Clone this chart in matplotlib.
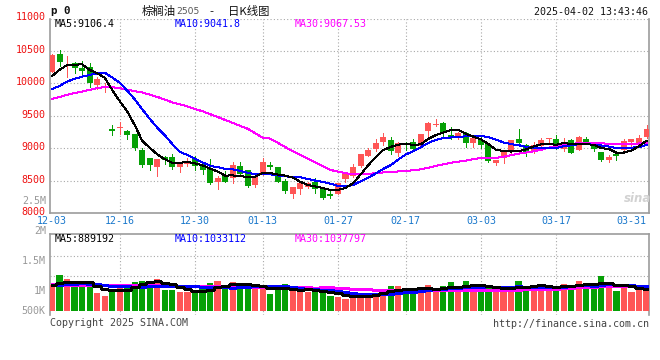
import numpy as np
import pandas as pd
import matplotlib
matplotlib.use("Agg")
import matplotlib.pyplot as plt
import matplotlib.transforms as mtransforms

plt.rcParams['font.family'] = ['DejaVu Sans Mono', 'DejaVu Sans']

W, H = 660, 360

# ---------------- data ----------------
date_labels = ["12-03", "12-16", "12-30", "01-13", "01-27", "02-17", "03-03", "03-17", "03-31"]
date_label_idx = [0, 9, 19, 28, 38, 47, 57, 67, 77]

opens = [10180, 10460, 10275, 10307, 10241, 10256, 9976, 9945, 9285, 9305,
         9264, 9213, 8968, 8841, 8714, 8866, 8866, 8704, 8754, 8831,
         8729, 8678, 8475, 8576, 8536, 8729, 8663, 8434, 8590, 8739,
         8704, 8495, 8296, 8373, 8408, 8475, 8373, 8296, 8296, 8525,
         8576, 8719, 8882, 8994, 9096, 9121, 8922, 9085, 9101, 9034,
         9264, 9350, 9381, 9202, 9151, 9238, 9085, 9121, 9060, 8770,
         8841, 8973, 9136, 9045, 8958, 9034, 9140, 9136, 8984, 9121,
         8973, 9136, 9070, 8948, 8821, 8907, 8968, 9096, 9075, 9177]
closes = [10434, 10332, 10285, 10231, 10190, 10001, 10063, 9955, 9275, 9330,
          9202, 9009, 8739, 8739, 8831, 8821, 8714, 8770, 8795, 8729,
          8668, 8464, 8541, 8485, 8739, 8602, 8424, 8551, 8790, 8709,
          8485, 8347, 8408, 8459, 8464, 8363, 8230, 8261, 8464, 8617,
          8714, 8907, 8973, 9085, 9172, 8958, 9085, 9045, 8994, 9213,
          9381, 9375, 9248, 9177, 9238, 9075, 9151, 9045, 8795, 8821,
          8958, 9121, 9075, 8933, 9045, 9121, 9150, 9009, 9085, 8933,
          9172, 9096, 8984, 8821, 8866, 8882, 9111, 9136, 9151, 9290]
highs = [10445, 10521, 10419, 10332, 10348, 10317, 10093, 10002, 9365, 9401,
         9280, 9220, 9009, 8856, 8835, 8880, 8907, 8775, 8846, 8882,
         8780, 8831, 8566, 8653, 8780, 8780, 8663, 8576, 8850, 8780,
         8714, 8525, 8408, 8500, 8485, 8536, 8373, 8347, 8464, 8637,
         8754, 8907, 9009, 9136, 9228, 9172, 9096, 9101, 9146, 9213,
         9401, 9452, 9401, 9330, 9248, 9248, 9151, 9187, 9060, 8821,
         8958, 9121, 9299, 9070, 9096, 9162, 9162, 9197, 9162, 9136,
         9187, 9177, 9070, 8948, 8892, 8933, 9136, 9136, 9197, 9350]
lows = [10170, 10266, 10103, 10154, 10129, 9951, 9910, 9859, 9197, 9213,
        9136, 8968, 8714, 8668, 8576, 8760, 8678, 8637, 8729, 8668,
        8602, 8449, 8373, 8475, 8464, 8576, 8408, 8408, 8580, 8678,
        8475, 8307, 8230, 8296, 8383, 8312, 8220, 8235, 8286, 8485,
        8551, 8704, 8882, 8958, 9045, 8907, 8882, 8973, 8984, 9024,
        9177, 9340, 9187, 9136, 9136, 9019, 9019, 9009, 8780, 8739,
        8770, 8933, 9060, 8882, 8933, 9009, 9085, 8984, 8958, 8922,
        8968, 9085, 8958, 8805, 8790, 8821, 8958, 9034, 9060, 9162]
volumes = [1080000, 1250000, 1180000, 1080000, 1056000, 1083000, 944000, 906000, 972000, 1100000,
           1100000, 1139000, 1150000, 1139000, 1183000, 1000000, 1000000, 967000, 967000, 960000,
           1017000, 1117000, 1150000, 1067000, 1133000, 1067000, 1067000, 1050000, 1050000, 933000,
           1035000, 1100000, 994000, 972000, 972000, 990000, 972000, 906000, 889000, 855000,
           900000, 917000, 950000, 950000, 1000000, 1067000, 1067000, 990000, 990000, 1017000,
           1083000, 983000, 1067000, 1128000, 1017000, 1150000, 1056000, 1028000, 1083000, 961000,
           1000000, 1067000, 1150000, 1056000, 1030000, 1083000, 1035000, 1067000, 1100000, 1083000,
           1153000, 1100000, 1028000, 1233000, 1060000, 985000, 1100000, 972000, 1020000, 985000]

# moving-average values before enough visible history exists
ma5_head = [10110, 10210, 10280, 10285]
ma10_head = [9910, 9960, 10027, 10070, 10103, 10130, 10150, 10165, 10090]
ma30_head = [9760, 9790, 9823, 9850, 9874, 9900, 9925, 9945, 9940, 9925,
             9900, 9880, 9859, 9825, 9790, 9750, 9706, 9675, 9645, 9605,
             9569, 9525, 9482, 9435, 9391, 9345, 9299, 9230, 9162]
vma5_head = [1083000, 1122000, 1128000, 1128000]
vma10_head = [1080000, 1090000, 1100000, 1105000, 1110000, 1105000, 1095000, 1080000, 1070000]
vma30_head = [1094000, 1091000, 1088000, 1086000, 1083000, 1082000, 1081000, 1080000, 1078000, 1078000,
              1078000, 1078000, 1078000, 1078000, 1077000, 1076000, 1075000, 1074000, 1072000, 1071000,
              1070000, 1068000, 1067000, 1064000, 1061000, 1058000, 1056000, 1056000, 1056000]

price_ticks = [8000, 8500, 9000, 9500, 10000, 10500, 11000]
vol_tick_vals = [2500000, 2000000, 1500000, 1000000, 500000]
vol_tick_labels = ["2.5M", "2M", "1.5M", "1M", "500K"]

title_name = "棕榈油"
title_code = "2505"
title_kind = "日K线图"
timestamp = "2025-04-02 13:43:46"
hdr_price = ["MA5:9106.4", "MA10:9041.8", "MA30:9067.53"]
hdr_vol = ["MA5:889192", "MA10:1033112", "MA30:1037797"]

# ---------------- styles ----------------
RED = '#ff5656'
GREEN = '#06a006'
MA_COLORS = ['#000000', '#0000ff', '#ff00ff']
GRID = '#a8a8a8'
SPINE = '#9c9c9c'
FS = 7.2
LW1 = 0.72  # one pixel at 100 dpi


def with_head(series, n, head):
    s = pd.Series(series, dtype=float).rolling(n).mean().to_numpy()
    s[:n - 1] = head
    return s


o = np.array(opens, float)
c = np.array(closes, float)
hi = np.array(highs, float)
lo = np.array(lows, float)
v = np.array(volumes, float)
idx = np.arange(len(c))
up = c >= o
cols = np.where(up, RED, GREEN)

ma5 = with_head(c, 5, ma5_head)
ma10 = with_head(c, 10, ma10_head)
ma30 = with_head(c, 30, ma30_head)
vma5 = with_head(v, 5, vma5_head)
vma10 = with_head(v, 10, vma10_head)
vma30 = with_head(v, 30, vma30_head)

fig = plt.figure(figsize=(W / 100, H / 100), dpi=100)
fig.patch.set_facecolor('white')


def px_axes(l, t, r, b):
    return fig.add_axes([l / W, 1 - b / H, (r - l) / W, (b - t) / H])


def ftext(x, y, s, **kw):
    kw.setdefault('va', 'center')
    kw.setdefault('fontsize', FS)
    return fig.text(x / W, 1 - y / H, s, **kw)


def shift(px_dx, px_dy):
    return mtransforms.ScaledTranslation(px_dx / 100.0, px_dy / 100.0, fig.dpi_scale_trans)


ax = px_axes(50, 18.5, 649, 213)
axv = px_axes(50, 234, 649, 315)

XL = (-0.266, 79.33)
for a in (ax, axv):
    a.set_xlim(*XL)
    a.set_facecolor('white')
    for sp in a.spines.values():
        sp.set_color(SPINE)
        sp.set_linewidth(1.2)

# ---------------- price panel ----------------
ax.set_ylim(8000, 11000)
ax.spines['top'].set_visible(False)
for p in price_ticks[1:]:
    ax.axhline(p, color=GRID, lw=0.8, ls=(0, (1, 2)), zorder=1)
for i in date_label_idx[1:-1]:
    ax.axvline(i, color=GRID, lw=0.8, ls=(0, (1, 2)), zorder=1)
    axv.axvline(i, color=GRID, lw=0.8, ls=(0, (1, 2)), zorder=1)

ax.vlines(idx, lo, hi, colors=cols, lw=LW1, zorder=3, antialiased=False)
diff = np.abs(c - o)
bh = np.maximum(diff, 16)
bb = np.minimum(o, c) - (bh - diff) / 2
ax.bar(idx, bh, bottom=bb, width=0.8, color=cols, linewidth=0, zorder=4, antialiased=False)

for s, col in zip([ma30, ma10, ma5], MA_COLORS[::-1]):
    ax.plot(idx, s, color=col, lw=LW1, zorder=5, antialiased=False)

ax.set_yticks(price_ticks)
ax.set_yticklabels([str(p) for p in price_ticks], color='#ee1111', fontsize=FS)
ax.set_xticks(date_label_idx)
ax.set_xticklabels(date_labels, color='#1a78cc', fontsize=FS)
ax.tick_params(axis='both', length=0)
ax.tick_params(axis='y', pad=3)
ax.tick_params(axis='x', pad=2.4)
for lab in ax.get_yticklabels():
    lab.set_transform(lab.get_transform() + shift(0, 2.0))

# ---------------- volume panel ----------------
vpx = lambda y: 1e6 + (290 - y) * 1e6 / 60.0
axv.set_ylim(vpx(315), vpx(234))
axv.spines['bottom'].set_visible(False)
axv.set_xticks([])
axv.set_yticks([])
for f in (0.481, 0.728):
    axv.plot([0, 1], [f, f], transform=axv.transAxes, color=GRID, lw=0.8, ls=(0, (1, 2)), zorder=1)

base = vpx(311)
axv.bar(idx, v - base, bottom=base, width=0.82, color=cols, linewidth=0, zorder=3, antialiased=False)
for s, col in zip([vma30, vma10, vma5], MA_COLORS[::-1]):
    axv.plot(idx, s, color=col, lw=LW1 * 1.4, drawstyle='steps-mid', zorder=5, antialiased=False)

btr = mtransforms.blended_transform_factory(axv.transAxes, axv.transData) + shift(0, -1.0)
ylo = axv.get_ylim()[0]
for val, lab in zip(vol_tick_vals, vol_tick_labels):
    pos = max(val, ylo)
    axv.text(-0.007, pos, lab, transform=btr, ha='right', va='bottom' if val < ylo else 'center',
             color='#999999', fontsize=FS, clip_on=False)

# ---------------- texts ----------------
ftext(51, 11, "p 0", fontweight='bold', fontsize=7.8, color='#111111')
ftext(141.5, 11, title_name, family=['Noto Sans CJK SC'], fontsize=8.2, color='#111111')
ftext(176.5, 11.5, title_code, family=['DejaVu Sans'], fontsize=6.6, color='#555555')
ftext(211, 11, "-", family=['DejaVu Sans'], fontsize=8, color='#111111', ha='center')
ftext(228, 11, title_kind, family=['Noto Sans CJK SC'], fontsize=8.2, color='#111111')
ftext(648.5, 12, timestamp, ha='right', color='#111111')

for x0, s, col in zip([55, 175, 295], hdr_price, MA_COLORS):
    ftext(x0, 24, s, color=col)
for x0, s, col in zip([55, 175, 295], hdr_vol, MA_COLORS):
    ftext(x0, 239, s, color=col)

ftext(50, 323.5, "Copyright 2025 SINA.COM", color='#444444')
ftext(648.5, 324, "http://finance.sina.com.cn", ha='right', color='#444444')
ftext(638, 199, "sina", ha='center', family=['DejaVu Sans'], fontsize=8.5,
      fontweight='bold', style='italic', color='#d2d2d2')

fig.savefig("out.png", dpi=100, facecolor='white')
